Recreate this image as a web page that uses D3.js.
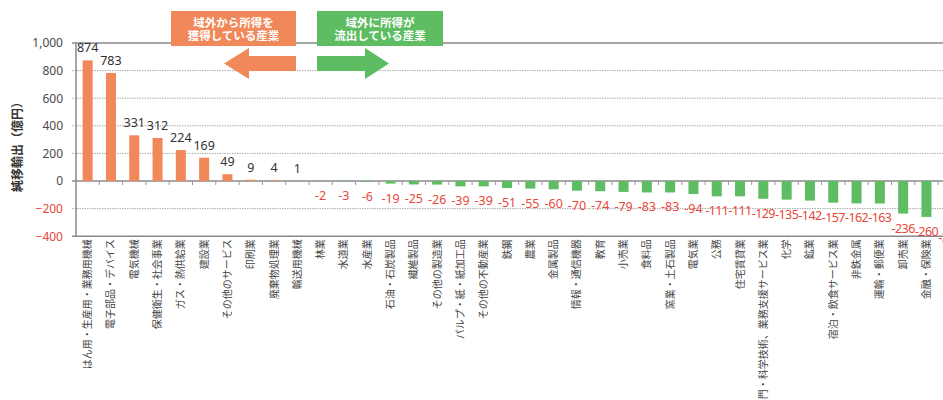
<!DOCTYPE html>
<html><head><meta charset="utf-8">
<script src="https://cdn.jsdelivr.net/npm/d3@7"></script>
<style>
html,body{margin:0;padding:0;background:#fff;overflow:hidden;}
svg{display:block;font-family:"Noto Sans CJK JP","Noto Sans",sans-serif;}
</style></head>
<body>
<svg id="chart" width="943" height="400"></svg>
<script>
const categories = [
  "はん用・生産用・業務用機械","電子部品・デバイス","電気機械","保健衛生・社会事業","ガス・熱供給業",
  "建設業","その他のサービス","印刷業","廃棄物処理業","輸送用機械",
  "林業","水道業","水産業","石油・石炭製品","繊維製品",
  "その他の製造業","パルプ・紙・紙加工品","その他の不動産業","鉄鋼","農業",
  "金属製品","情報・通信機器","教育","小売業","食料品",
  "窯業・土石製品","電気業","公務","住宅賃貸業","専門・科学技術、業務支援サービス業",
  "化学","鉱業","宿泊・飲食サービス業","非鉄金属","運輸・郵便業",
  "卸売業","金融・保険業","情報通信業"
];
const values = [
  874, 783, 331, 312, 224,
  169, 49, 9, 4, 1,
  -2, -3, -6, -19, -25,
  -26, -39, -39, -51, -55,
  -60, -70, -74, -79, -83,
  -83, -94, -111, -111, -129,
  -135, -142, -157, -162, -163,
  -236, -260, -305
];
const yTicks = [1000, 800, 600, 400, 200, 0, -200, -400];
const yTitle = "純移輸出（億円）";
const gainText = ["域外から所得を", "獲得している産業"];
const lossText = ["域外に所得が", "流出している産業"];

const data = categories.map((c, i) => ({cat: c, v: values[i]}));

const svg = d3.select("#chart");
const plotL = 76, plotR = 961.4, plotT = 43, plotB = 236.2;

const x = d3.scaleBand().domain(categories).range([plotL, plotR])
  .paddingInner(0.57).paddingOuter(0.285);
const step = x.step();
const y = d3.scaleLinear().domain([-400, 1000]).range([plotB, plotT]);

const orange = "#F0885A", green = "#5EBD62", red = "#E8473A";

// gridlines
const grid = svg.append("g");
yTicks.forEach(t => {
  const solid = (t === 1000 || t === 0 || t === -400);
  grid.append("line")
    .attr("x1", plotL - 4).attr("x2", 943 + 30)
    .attr("y1", y(t)).attr("y2", y(t))
    .attr("stroke", solid ? "#8a8a8a" : "#a8a8a8")
    .attr("stroke-width", solid ? 1.5 : 1)
    .attr("stroke-dasharray", solid ? null : "1.5,1");
});

// y axis
const yAxis = d3.axisLeft(y).tickValues(yTicks).tickFormat(d3.format(",")).tickSize(0).tickPadding(13);
const ya = svg.append("g").attr("transform", `translate(${plotL},0)`).call(yAxis);
ya.select(".domain").remove();
ya.selectAll("text")
  .attr("font-size", 12)
  .attr("font-family", "'Noto Sans','Noto Sans CJK JP',sans-serif")
  .attr("fill", d => d < 0 ? red : "#4a4a4a");

// left axis line
svg.append("line").attr("x1", plotL).attr("x2", plotL)
  .attr("y1", plotT).attr("y2", plotB)
  .attr("stroke", "#8a8a8a").attr("stroke-width", 1.5);

// bars
svg.append("g").selectAll("rect").data(data).join("rect")
  .attr("x", d => x(d.cat))
  .attr("width", x.bandwidth())
  .attr("y", d => y(Math.max(0, d.v)))
  .attr("height", d => Math.abs(y(d.v) - y(0)))
  .attr("fill", d => d.v >= 0 ? orange : green);

// zero-line ticks at category boundaries
svg.append("g").selectAll("line").data(categories).join("line")
  .attr("x1", d => x(d) - step * 0.285 + step)
  .attr("x2", d => x(d) - step * 0.285 + step)
  .attr("y1", y(0)).attr("y2", y(0) + 4)
  .attr("stroke", "#9a9a9a").attr("stroke-width", 1);

// value labels
svg.append("g").selectAll("text").data(data).join("text")
  .attr("x", d => x(d.cat) + x.bandwidth() / 2)
  .attr("y", d => d.v >= 0 ? y(d.v) - 8 : y(d.v) + 19)
  .attr("text-anchor", "middle")
  .attr("font-size", 12.5)
  .attr("letter-spacing", d => d.v < -99 ? -0.6 : 0)
  .attr("font-family", "'Noto Sans',sans-serif")
  .attr("fill", d => d.v >= 0 ? "#333" : red)
  .text(d => d.v);

// category labels
svg.append("g").selectAll("text").data(categories).join("text")
  .attr("transform", d => `translate(${x(d) + x.bandwidth() / 2},${plotB + 3}) rotate(-90)`)
  .attr("text-anchor", "end")
  .attr("dy", "0.35em")
  .attr("font-size", 10)
  .attr("fill", "#444")
  .text(d => d);

// y title
svg.append("text")
  .attr("transform", `translate(18,144) rotate(-90)`)
  .attr("text-anchor", "middle").attr("dy", "0.35em")
  .attr("font-size", 12).attr("font-weight", "bold").attr("fill", "#333")
  .text(yTitle);

// annotation boxes
function box(x0, x1, color, lines) {
  svg.append("rect").attr("x", x0).attr("y", 11).attr("width", x1 - x0).attr("height", 35).attr("fill", color);
  lines.forEach((t, i) => {
    svg.append("text").attr("text-anchor", "middle").attr("font-size", 11.5).attr("font-weight", "bold")
      .attr("fill", "#fff")
      .attr("x", (x0 + x1) / 2).attr("y", 23 + i * 12.5).attr("dy", "0.35em").text(t);
  });
}
box(171, 296, orange, gainText);
box(317, 443, green, lossText);

// arrows
const arrL = d3.path();
arrL.moveTo(224, 63.5); arrL.lineTo(249, 48); arrL.lineTo(249, 56); arrL.lineTo(296, 56);
arrL.lineTo(296, 71); arrL.lineTo(249, 71); arrL.lineTo(249, 79); arrL.closePath();
svg.append("path").attr("d", arrL.toString()).attr("fill", orange);

const arrR = d3.path();
arrR.moveTo(389, 63.5); arrR.lineTo(365, 48); arrR.lineTo(365, 56); arrR.lineTo(317, 56);
arrR.lineTo(317, 71); arrR.lineTo(365, 71); arrR.lineTo(365, 79); arrR.closePath();
svg.append("path").attr("d", arrR.toString()).attr("fill", green);
</script>
</body></html>
